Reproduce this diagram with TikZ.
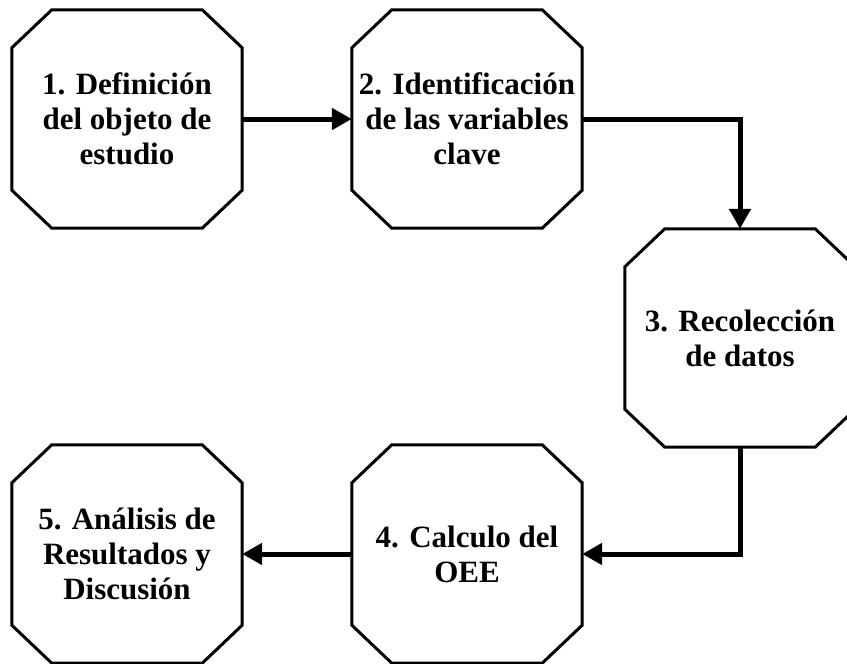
\documentclass[tikz,border=0pt]{standalone}
\usepackage{fontspec}
\setmainfont{Liberation Serif}
\usetikzlibrary{arrows.meta}
\newcommand\drawocta[1]{%
  \draw[oct] ([xshift=40pt]#1.north west) -- ([xshift=-40pt]#1.north east)
    -- ([yshift=-38pt]#1.north east) -- ([yshift=38pt]#1.south east)
    -- ([xshift=-40pt]#1.south east) -- ([xshift=40pt]#1.south west)
    -- ([yshift=38pt]#1.south west) -- ([yshift=-38pt]#1.north west) -- cycle;}
\begin{document}
\begin{tikzpicture}[x=1pt,y=-1pt,
  box/.style={draw=none, minimum width=230pt, minimum height=218pt, inner sep=0pt,
    font=\fontsize{31}{35}\selectfont\bfseries, align=center},
  oct/.style={line width=3pt, line join=miter},
  conn/.style={line width=5pt, -{Triangle[length=20pt,width=21pt]}}
]
\useasboundingbox (0,0) rectangle (847,664);
\fill[white] (0,0) rectangle (847,664);
\node[box] (b1) at (127,119) {1. Definición\\del objeto de\\estudio};
\node[box] (b2) at (467,119) {2. Identificación\\de las variables\\clave};
\node[box] (b3) at (740,338) {3. Recolección\\de datos};
\node[box] (b4) at (467,554) {4. Calculo del\\OEE};
\node[box] (b5) at (127,554) {5. Análisis de\\Resultados y\\Discusión};
\drawocta{b1}
\drawocta{b2}
\drawocta{b3}
\drawocta{b4}
\drawocta{b5}
\draw[conn] (b1.east) -- (b2.west);
\draw[conn] (b2.east) -| (b3.north);
\draw[conn] (b3.south) |- (b4.east);
\draw[conn] (b4.west) -- (b5.east);
\end{tikzpicture}
\end{document}
